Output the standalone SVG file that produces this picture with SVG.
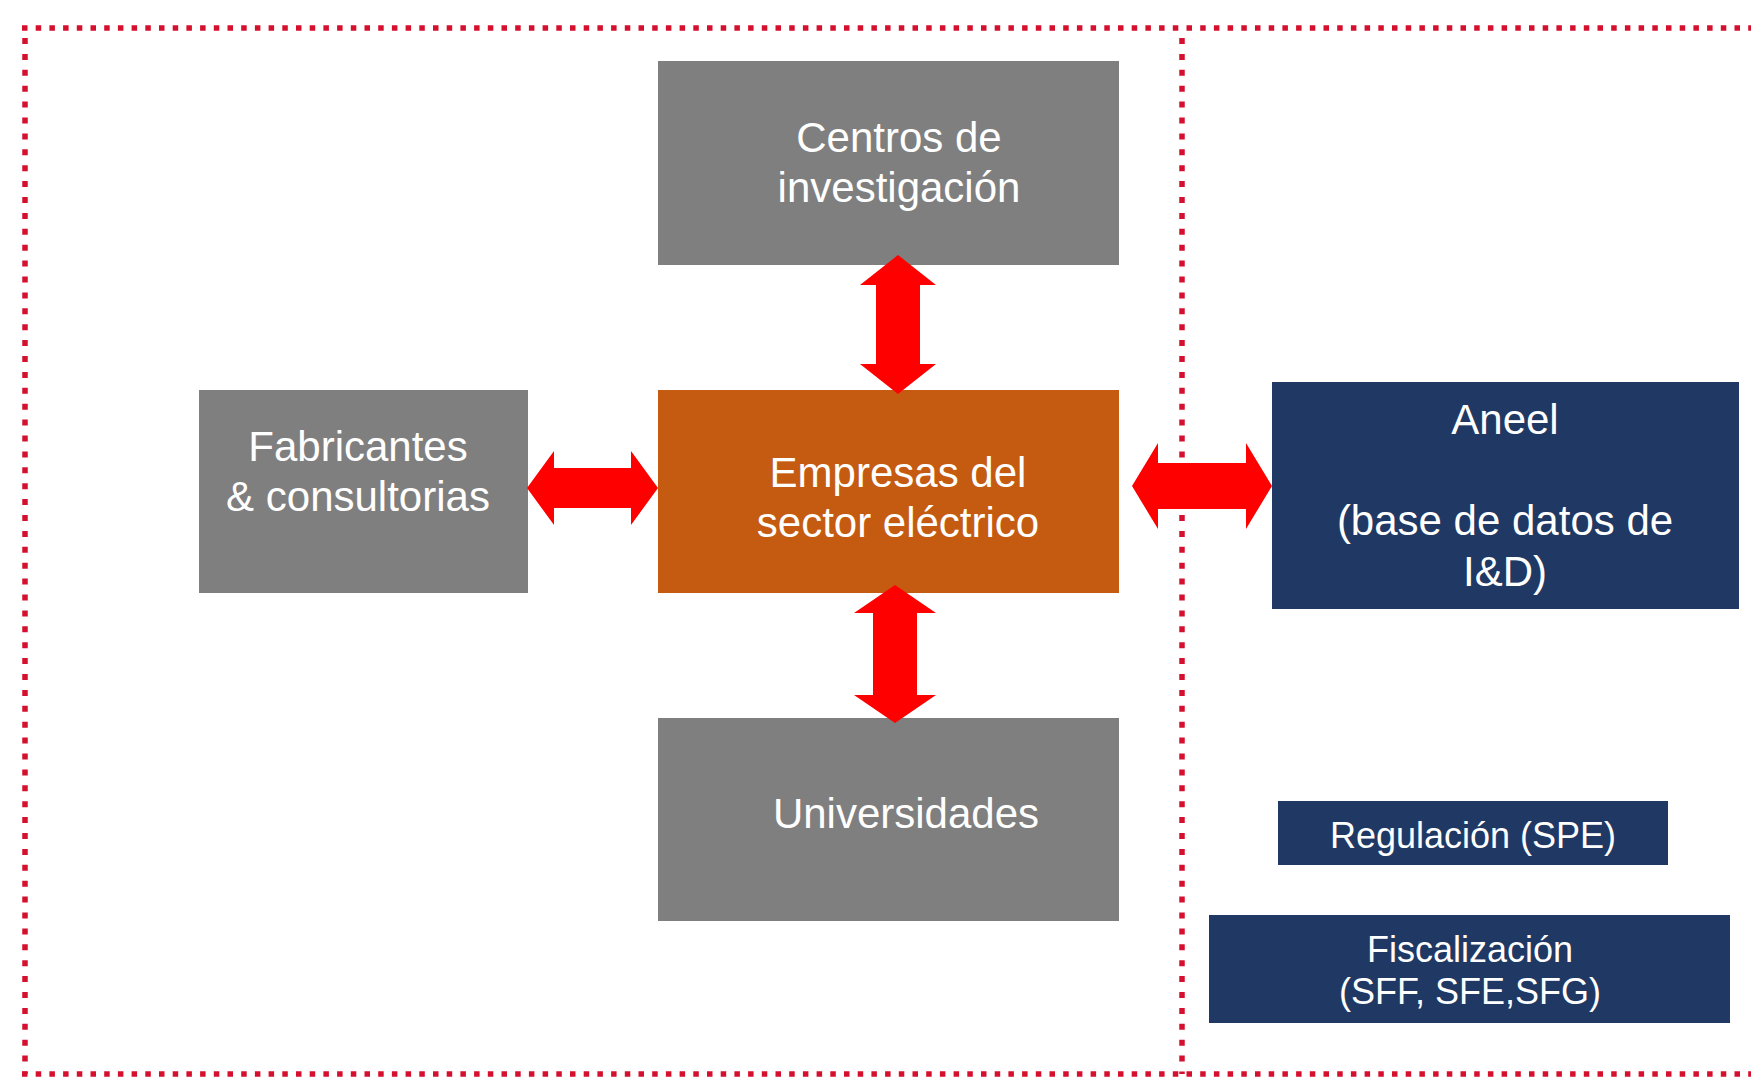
<svg xmlns="http://www.w3.org/2000/svg" width="1751" height="1077" viewBox="0 0 1751 1077">
<style>
.gray{fill:#7f7f7f}
.orange{fill:#c55a11}
.navy{fill:#203864}
.t{fill:#ffffff;font-family:"Liberation Sans",Arial,sans-serif;font-size:42px;text-anchor:middle}
.ts{font-size:36px}
.dot{stroke:#d5102e;stroke-width:5.5;fill:none}
.dh{stroke-dasharray:5.5 8.2}
.dv{stroke-dasharray:6 9.9}
.arrow{fill:#ff0000}
</style>
<rect width="1751" height="1077" fill="#ffffff"/>
<g id="frame">
<line class="dot dh" x1="22" y1="28" x2="1751" y2="28"/>
<line class="dot dv" x1="25" y1="38" x2="25" y2="1074"/>
<line class="dot dh" x1="22" y1="1074" x2="1751" y2="1074"/>
<line class="dot dv" x1="1182" y1="38" x2="1182" y2="1074"/>
</g>
<g id="centros">
<rect class="gray" x="658" y="61" width="461" height="204"/>
<text class="t" x="899" y="152">Centros de</text>
<text class="t" x="899" y="202">investigación</text>
</g>
<g id="fabricantes">
<rect class="gray" x="199" y="390" width="329" height="203"/>
<text class="t" x="358" y="461">Fabricantes</text>
<text class="t" x="358" y="511">&amp; consultorias</text>
</g>
<g id="empresas">
<rect class="orange" x="658" y="390" width="461" height="203"/>
<text class="t" x="898" y="487">Empresas del</text>
<text class="t" x="898" y="537">sector eléctrico</text>
</g>
<g id="universidades">
<rect class="gray" x="658" y="718" width="461" height="203"/>
<text class="t" x="906" y="828">Universidades</text>
</g>
<g id="aneel">
<rect class="navy" x="1272" y="382" width="467" height="227"/>
<text class="t" x="1505" y="434">Aneel</text>
<text class="t" x="1505" y="535">(base de datos de</text>
<text class="t" x="1505" y="586">I&amp;D)</text>
</g>
<g id="regulacion">
<rect class="navy" x="1278" y="801" width="390" height="64"/>
<text class="t ts" x="1473" y="848">Regulación (SPE)</text>
</g>
<g id="fiscalizacion">
<rect class="navy" x="1209" y="915" width="521" height="108"/>
<text class="t ts" x="1470" y="962">Fiscalización</text>
<text class="t ts" x="1470" y="1004">(SFF, SFE,SFG)</text>
</g>
<g id="connectors">
<polygon class="arrow" points="898,255 936,285 920,285 920,364 936,364 898,394 860,364 876,364 876,285 860,285"/>
<polygon class="arrow" points="895,585 936,613 917,613 917,695 936,695 895,723 854,695 873,695 873,613 854,613"/>
<polygon class="arrow" points="527,488 554,451 554,468 631,468 631,451 658,488 631,525 631,508 554,508 554,525"/>
<polygon class="arrow" points="1132,486 1158,443 1158,463 1246,463 1246,443 1272,486 1246,529 1246,509 1158,509 1158,529"/>
</g>
</svg>
